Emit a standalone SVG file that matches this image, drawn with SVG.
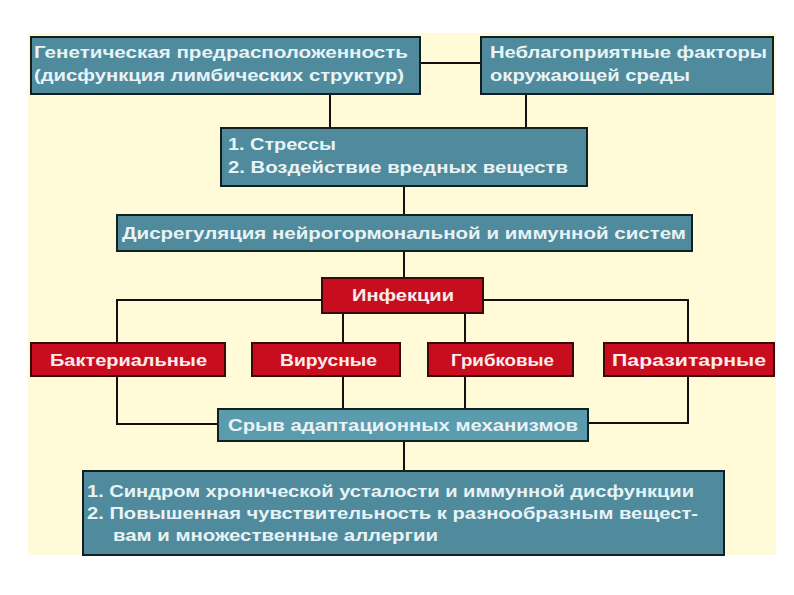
<svg xmlns="http://www.w3.org/2000/svg" width="794" height="595" viewBox="0 0 794 595">
<style>
.t{font-family:"Liberation Sans Narrow","Liberation Sans",Arial,sans-serif;font-weight:bold;font-size:16px;fill:#E8F3F6}
.tr{font-family:"Liberation Sans Narrow","Liberation Sans",Arial,sans-serif;font-weight:bold;font-size:16px;fill:#F8ECEC}
.teal{fill:#4F8B9D;stroke:#14201F;stroke-width:2}
.teal2{fill:#5A9BAE;stroke:#14201F;stroke-width:2}
.red{fill:#C80E1E;stroke:#3A0A0A;stroke-width:2}
.c{fill:none;stroke:#111;stroke-width:2}
</style>
<rect x="0" y="0" width="794" height="595" fill="#FFFFFF"/>
<rect x="28" y="33" width="748" height="522" fill="#FFFBD8"/>
<g id="connectors">
<line class="c" x1="420" y1="63" x2="481" y2="63"/>
<line class="c" x1="330" y1="94" x2="330" y2="128"/>
<line class="c" x1="526" y1="94" x2="526" y2="128"/>
<line class="c" x1="404" y1="186" x2="404" y2="215"/>
<line class="c" x1="404" y1="251" x2="404" y2="278"/>
<polyline class="c" points="117,343 117,300 322,300"/>
<polyline class="c" points="483,300 688,300 688,343"/>
<line class="c" x1="343" y1="313" x2="343" y2="343"/>
<line class="c" x1="465" y1="313" x2="465" y2="343"/>
<line class="c" x1="343" y1="376" x2="343" y2="409"/>
<line class="c" x1="465" y1="376" x2="465" y2="409"/>
<polyline class="c" points="117,376 117,424 218,424"/>
<polyline class="c" points="688,376 688,423 588,423"/>
<line class="c" x1="404" y1="441" x2="404" y2="471"/>
</g>
<g id="genetic">
<rect class="teal" x="31" y="37" width="389" height="57"/>
<text class="t" x="34" y="58" textLength="374" lengthAdjust="spacingAndGlyphs">Генетическая предрасположенность</text>
<text class="t" x="34" y="81" textLength="370" lengthAdjust="spacingAndGlyphs">(дисфункция лимбических структур)</text>
</g>
<g id="environment">
<rect class="teal" x="481" y="37" width="292" height="57"/>
<text class="t" x="490" y="58" textLength="277" lengthAdjust="spacingAndGlyphs">Неблагоприятные факторы</text>
<text class="t" x="490" y="81" textLength="200" lengthAdjust="spacingAndGlyphs">окружающей среды</text>
</g>
<g id="stress">
<rect class="teal" x="221" y="128" width="366" height="58"/>
<text class="t" x="228" y="150" textLength="108" lengthAdjust="spacingAndGlyphs">1. Стрессы</text>
<text class="t" x="228" y="173" textLength="340" lengthAdjust="spacingAndGlyphs">2. Воздействие вредных веществ</text>
</g>
<g id="dysregulation">
<rect class="teal" x="117" y="215" width="575" height="36"/>
<text class="t" x="122" y="239" textLength="564" lengthAdjust="spacingAndGlyphs">Дисрегуляция нейрогормональной и иммунной систем</text>
</g>
<g id="infections">
<rect class="red" x="322" y="278" width="161" height="35"/>
<text class="tr" x="352" y="301" textLength="102" lengthAdjust="spacingAndGlyphs">Инфекции</text>
</g>
<g id="bacterial">
<rect class="red" x="31" y="343" width="194" height="33"/>
<text class="tr" x="50" y="366" textLength="157" lengthAdjust="spacingAndGlyphs">Бактериальные</text>
</g>
<g id="viral">
<rect class="red" x="252" y="343" width="148" height="33"/>
<text class="tr" x="280" y="366" textLength="97" lengthAdjust="spacingAndGlyphs">Вирусные</text>
</g>
<g id="fungal">
<rect class="red" x="428" y="343" width="145" height="33"/>
<text class="tr" x="451" y="366" textLength="103" lengthAdjust="spacingAndGlyphs">Грибковые</text>
</g>
<g id="parasitic">
<rect class="red" x="604" y="343" width="170" height="33"/>
<text class="tr" x="612" y="366" textLength="154" lengthAdjust="spacingAndGlyphs">Паразитарные</text>
</g>
<g id="breakdown">
<rect class="teal2" x="218" y="409" width="370" height="32"/>
<text class="t" x="228" y="431" textLength="350" lengthAdjust="spacingAndGlyphs">Срыв адаптационных механизмов</text>
</g>
<g id="outcome">
<rect class="teal" x="83" y="471" width="641" height="84"/>
<text class="t" x="87" y="497" textLength="607" lengthAdjust="spacingAndGlyphs">1. Синдром хронической усталости и иммунной дисфункции</text>
<text class="t" x="87" y="519" textLength="611" lengthAdjust="spacingAndGlyphs">2. Повышенная чувствительность к разнообразным вещест-</text>
<text class="t" x="113" y="541" textLength="325" lengthAdjust="spacingAndGlyphs">вам и множественные аллергии</text>
</g>
</svg>
